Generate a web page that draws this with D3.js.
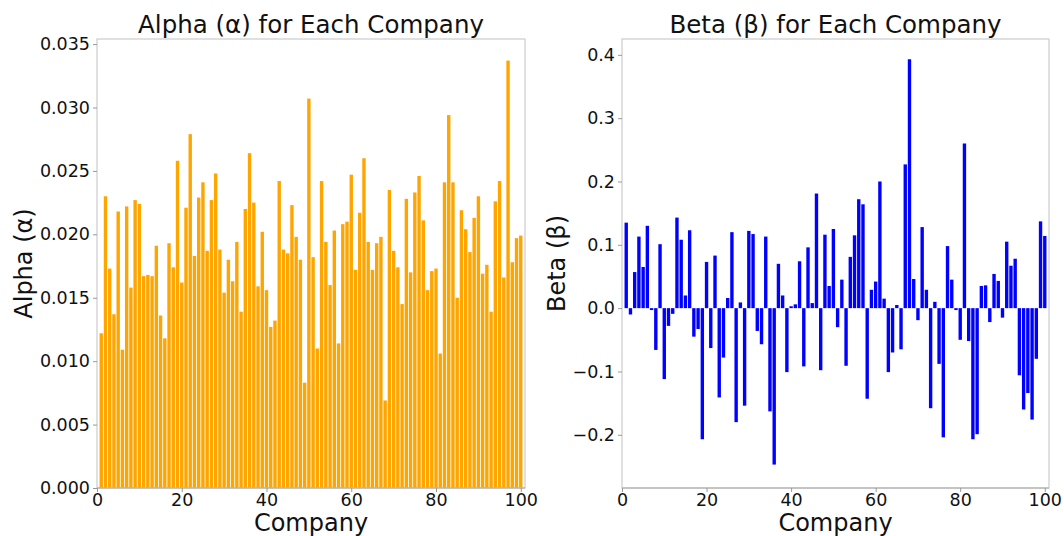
<!DOCTYPE html>
<html>
<head>
<meta charset="utf-8">
<script src="https://cdn.jsdelivr.net/npm/d3@7"></script>
<style>
  body { margin: 0; background: #fff; }
  svg { font-family: "DejaVu Sans", sans-serif; }
</style>
</head>
<body>
<div id="chart"></div>
<script>
const w = 1064;
const h = 536;

// company ids 1..100
const companies = d3.range(1, 101);

const alphaValues = [
  0.0122, 0.0230, 0.0173, 0.0137, 0.0218, 0.0109, 0.0222, 0.0158, 0.0227, 0.0224,
  0.0167, 0.0168, 0.0167, 0.0191, 0.0136, 0.0118, 0.0193, 0.0174, 0.0258, 0.0162,
  0.0221, 0.0279, 0.0183, 0.0229, 0.0241, 0.0187, 0.0227, 0.0248, 0.0188, 0.0154,
  0.0180, 0.0163, 0.0194, 0.0139, 0.0220, 0.0264, 0.0225, 0.0159, 0.0202, 0.0156,
  0.0127, 0.0132, 0.0242, 0.0188, 0.0185, 0.0223, 0.0198, 0.0180, 0.0083, 0.0307,
  0.0182, 0.0110, 0.0242, 0.0194, 0.0160, 0.0203, 0.0114, 0.0208, 0.0210, 0.0247,
  0.0172, 0.0217, 0.0260, 0.0194, 0.0172, 0.0193, 0.0198, 0.0069, 0.0235, 0.0187,
  0.0174, 0.0145, 0.0228, 0.0170, 0.0233, 0.0246, 0.0211, 0.0156, 0.0171, 0.0173,
  0.0106, 0.0241, 0.0294, 0.0241, 0.0150, 0.0219, 0.0204, 0.0186, 0.0213, 0.0230,
  0.0169, 0.0176, 0.0139, 0.0226, 0.0242, 0.0166, 0.0337, 0.0178, 0.0197, 0.0199
];

const betaValues = [
  0.135, -0.010, 0.057, 0.113, 0.065, 0.130, -0.003, -0.066, 0.101, -0.112,
  -0.028, -0.009, 0.143, 0.108, 0.020, 0.123, -0.045, -0.033, -0.207, 0.073,
  -0.063, 0.083, -0.141, -0.078, 0.016, 0.120, -0.180, 0.009, -0.154, 0.122,
  0.117, -0.036, -0.057, 0.113, -0.163, -0.247, 0.070, 0.020, -0.101, 0.003,
  0.006, 0.074, -0.092, 0.096, 0.008, 0.181, -0.098, 0.116, 0.035, 0.125,
  -0.030, 0.045, -0.091, 0.081, 0.115, 0.172, 0.164, -0.143, 0.029, 0.042,
  0.200, 0.015, -0.101, -0.070, 0.005, -0.065, 0.227, 0.393, 0.046, -0.019,
  0.128, 0.029, -0.158, 0.010, -0.088, -0.204, 0.098, 0.045, -0.003, -0.050,
  0.260, -0.052, -0.207, -0.199, 0.035, 0.036, -0.022, 0.054, 0.043, -0.015,
  0.105, 0.067, 0.078, -0.106, -0.160, -0.134, -0.176, -0.080, 0.137, 0.114
];

const xTicks = [0, 20, 40, 60, 80, 100];
const alphaTicks = [0, 0.005, 0.010, 0.015, 0.020, 0.025, 0.030, 0.035];
const betaTicks = [-0.2, -0.1, 0.0, 0.1, 0.2, 0.3, 0.4];

const svg = d3.select("#chart")
    .append("svg")
    .attr("width", w)
    .attr("height", h);

function drawPanel(opts){
    const left = opts.left, right = opts.right, top = 39, bottom = 488;

    const x = d3.scaleLinear().domain([0, 101]).range([left, right]);
    const y = d3.scaleLinear().domain(opts.yDomain).range([bottom, top]);
    const barW = x(0.8) - x(0);

    const g = svg.append("g");

    // bars
    g.append("g")
        .selectAll("rect")
        .data(opts.values)
        .join("rect")
        .attr("x", (d, i) => x(companies[i]) - barW / 2)
        .attr("y", d => y(Math.max(0, d)))
        .attr("width", barW)
        .attr("height", d => Math.abs(y(d) - y(0)))
        .attr("fill", opts.color);

    // frame
    g.append("rect")
        .attr("x", left).attr("y", top)
        .attr("width", right - left).attr("height", bottom - top)
        .attr("fill", "none")
        .attr("stroke", "#cccccc")
        .attr("stroke-width", 1.2);
    g.append("line")
        .attr("x1", left).attr("x2", right)
        .attr("y1", bottom).attr("y2", bottom)
        .attr("stroke", "#a8a8a8")
        .attr("stroke-width", 1.2);

    // axes
    const xAxis = g.append("g")
        .attr("transform", "translate(0," + bottom + ")")
        .call(d3.axisBottom(x).tickValues(xTicks).tickFormat(d3.format("d")).tickSize(4).tickPadding(2));
    const yAxis = g.append("g")
        .attr("transform", "translate(" + left + ",0)")
        .call(d3.axisLeft(y).tickValues(opts.ticks).tickFormat(d3.format(opts.fmt)).tickSize(4).tickPadding(3));

    [xAxis, yAxis].forEach(a => {
        a.select(".domain").remove();
        a.selectAll(".tick line").attr("stroke", "#999");
        a.selectAll(".tick text")
            .attr("fill", "#111")
            .style("font-size", "17.5px")
            .style("font-family", "DejaVu Sans");
    });
    xAxis.selectAll(".tick text").attr("dy", "0.66em");

    // title + labels
    g.append("text")
        .attr("x", (left + right) / 2)
        .attr("y", 33)
        .attr("text-anchor", "middle")
        .style("font-size", "24.5px")
        .attr("fill", "#111")
        .text(opts.title);

    g.append("text")
        .attr("x", (left + right) / 2)
        .attr("y", 531)
        .attr("text-anchor", "middle")
        .style("font-size", "24px")
        .attr("fill", "#111")
        .text("Company");

    g.append("text")
        .attr("transform", "translate(" + opts.yLabelX + "," + ((top + bottom) / 2) + ") rotate(-90)")
        .attr("text-anchor", "middle")
        .style("font-size", "24px")
        .attr("fill", "#111")
        .text(opts.yLabel);
}

drawPanel({
    left: 97, right: 525,
    values: alphaValues,
    yDomain: [0, 0.0354],
    ticks: alphaTicks,
    fmt: ".3f",
    color: "#FFA500",
    title: "Alpha (\u03B1) for Each Company",
    yLabel: "Alpha (\u03B1)",
    yLabelX: 32
});

drawPanel({
    left: 622, right: 1049,
    values: betaValues,
    yDomain: [-0.284, 0.425],
    ticks: betaTicks,
    fmt: ".1f",
    color: "#0000FF",
    title: "Beta (\u03B2) for Each Company",
    yLabel: "Beta (\u03B2)",
    yLabelX: 565
});
</script>
</body>
</html>
